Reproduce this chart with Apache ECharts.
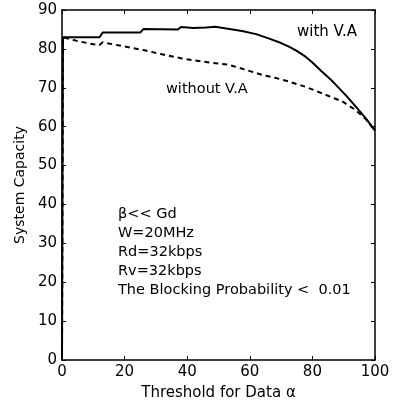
<!DOCTYPE html>
<html>
<head>
<meta charset="utf-8">
<script src="https://cdn.jsdelivr.net/npm/echarts@6/dist/echarts.min.js"></script>
<style>
  html, body { margin: 0; padding: 0; background: #fff; }
  #chart { width: 394px; height: 406px; }
</style>
</head>
<body>
<div id="chart"></div>
<script>
// threshold alpha (x) and system capacity (y)
const alphaWith = [0, 0.3, 12, 13, 25, 26, 37, 38, 42, 46, 49, 53, 57.5, 62, 66, 70, 72.5, 75, 77.8, 80, 83, 86, 88.5, 91, 93.8, 97, 100];
const capWith   = [0, 83, 83, 84.2, 84.2, 85.1, 85, 85.6, 85.4, 85.5, 85.7, 85.2, 84.6, 83.8, 82.7, 81.5, 80.6, 79.5, 78, 76.5, 74.2, 72, 69.9, 67.8, 65.2, 62.2, 59];

const alphaWithout = [0, 0.3, 5, 10, 12, 13, 20, 26, 32, 38, 41, 47, 53.4, 58, 64, 68, 72.5, 78, 83, 87, 89.5, 93.6, 97, 100];
const capWithout   = [0, 83, 82, 81.2, 81, 81.7, 80.6, 79.7, 78.6, 77.6, 77.2, 76.5, 75.9, 74.8, 73.3, 72.6, 71.6, 70.2, 68.6, 67.3, 66.5, 64.4, 62, 59];

const xTicks = { min: 0, max: 100, interval: 20 };
const yTicks = { min: 0, max: 90, interval: 10 };

const notes = ['β<< Gd', 'W=20MHz', 'Rd=32kbps', 'Rv=32kbps', 'The Blocking Probability <  0.01'];

const FONT = 'DejaVu Sans';

const pairs = (xs, ys) => xs.map((x, i) => [x, ys[i]]);

const chart = echarts.init(document.getElementById('chart'));

const boxAxis = {
  axisLine: { show: true, onZero: false, lineStyle: { color: '#000', width: 1.5 } },
  axisTick: { show: true, inside: true, length: 4, lineStyle: { color: '#000', width: 1 } },
  splitLine: { show: false },
};

chart.setOption({
  animation: false,
  backgroundColor: '#fff',
  grid: { left: 62, right: 19, top: 10, bottom: 45 },
  xAxis: [
    Object.assign({
      type: 'value',
      ...xTicks,
      name: 'Threshold for Data α',
      nameLocation: 'middle',
      nameGap: 26,
      nameTextStyle: { color: '#000', fontFamily: FONT, fontSize: 15 },
      axisLabel: { color: '#000', fontFamily: FONT, fontSize: 15, margin: 5 },
    }, boxAxis),
    Object.assign({
      type: 'value',
      ...xTicks,
      position: 'top',
      axisLabel: { show: false },
    }, boxAxis),
  ],
  yAxis: [
    Object.assign({
      type: 'value',
      ...yTicks,
      name: 'System Capacity',
      nameLocation: 'middle',
      nameGap: 31,
      nameTextStyle: { color: '#000', fontFamily: FONT, fontSize: 14 },
      axisLabel: { color: '#000', fontFamily: FONT, fontSize: 15, margin: 5 },
    }, boxAxis),
    Object.assign({
      type: 'value',
      ...yTicks,
      position: 'right',
      axisLabel: { show: false },
    }, boxAxis),
  ],
  series: [
    {
      name: 'with V.A',
      type: 'line',
      data: pairs(alphaWith, capWith),
      showSymbol: false,
      lineStyle: { color: '#000', width: 2 },
    },
    {
      name: 'without V.A',
      type: 'line',
      data: pairs(alphaWithout, capWithout),
      showSymbol: false,
      lineStyle: { color: '#000', width: 2, type: [5, 4] },
    },
  ],
  graphic: [
    { type: 'text', left: 297, top: 25, style: { text: 'with V.A', fill: '#000', font: '15px ' + FONT } },
    { type: 'text', left: 166, top: 82, style: { text: 'without V.A', fill: '#000', font: '14.5px ' + FONT } },
    ...notes.map((t, i) => ({
      type: 'text', left: 118, top: 207 + i * 19,
      style: { text: t, fill: '#000', font: '14.5px ' + FONT },
    })),
  ],
});
</script>
</body>
</html>
